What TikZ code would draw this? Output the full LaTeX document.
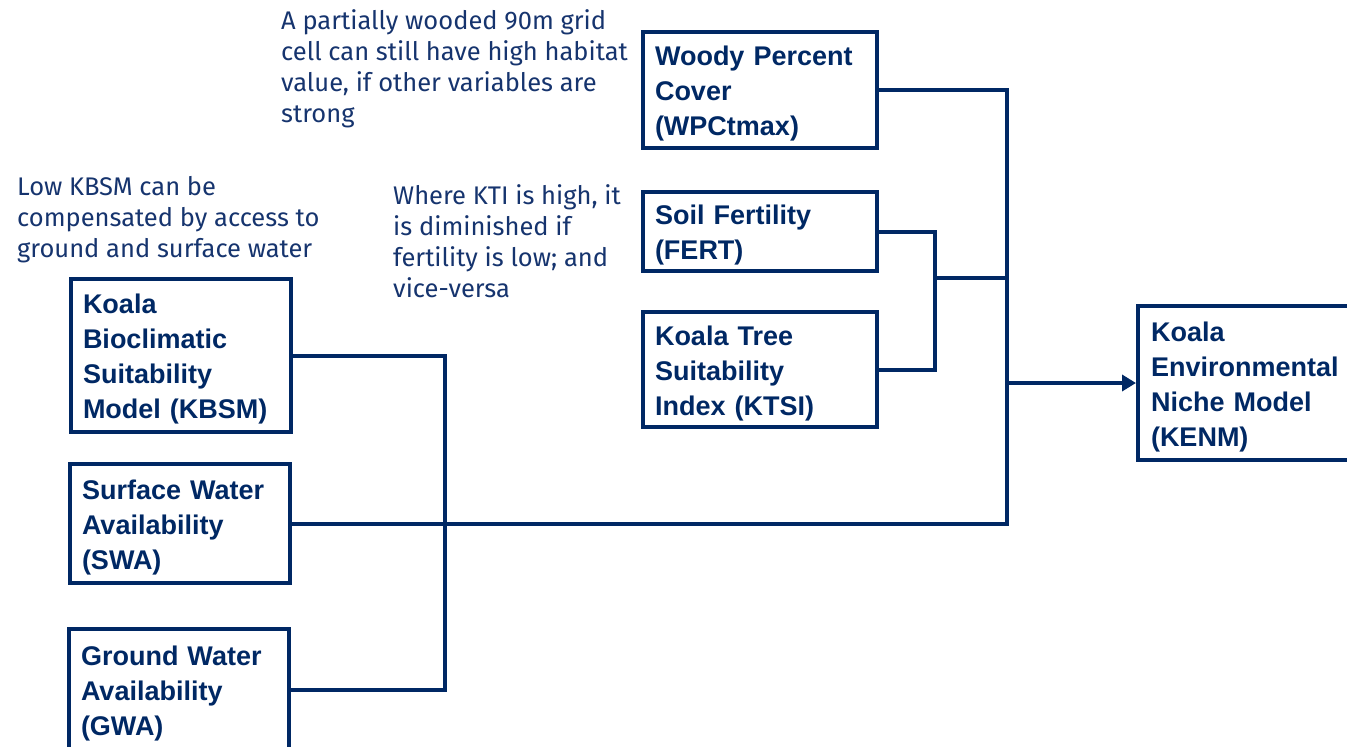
\documentclass[tikz,border=0pt]{standalone}
\usepackage{fontspec}
\setmainfont{Liberation Sans}
\newfontfamily\notefont{Fira Sans}
\usetikzlibrary{arrows.meta}
\definecolor{navy}{RGB}{0,40,100}
\definecolor{notecol}{RGB}{22,52,110}
% extra room above the first line of a box label
\newcommand\topgap{\rule{0pt}{27pt}}
\begin{document}
\begin{tikzpicture}[x=1pt,y=-1pt,
  box/.style={draw=navy, line width=4pt, text=navy,
    font=\bfseries\fontsize{27pt}{35pt}\selectfont,
    align=left, inner xsep=12pt, inner ysep=2pt, text width=210pt},
  note/.style={text=notecol, font=\notefont\fontsize{25.5pt}{31pt}\selectfont,
    align=left, anchor=north west, inner sep=0pt},
  link/.style={draw=navy, line width=4pt},
]
\useasboundingbox (0,0) rectangle (1347,747);

% input layers on the right-hand column
\node[box, minimum height=116pt] (wpc) at (760,90) {\topgap Woody Percent\\Cover\\(WPCtmax)};
\node[box, minimum height=79pt] (fert) at (760,231.5) {\topgap Soil Fertility\\(FERT)};
\node[box, minimum height=115pt] (ktsi) at (760,369.5) {\topgap Koala Tree\\Suitability\\Index (KTSI)};

% input layers on the left-hand column
\node[box, text width=196pt, minimum height=153pt] (kbsm) at (181,355.5) {\topgap Koala\\Bioclimatic\\Suitability\\Model (KBSM)};
\node[box, text width=196pt, minimum height=119pt] (swa) at (180,523.5) {\topgap Surface Water\\Availability\\(SWA)};
\node[box, text width=196pt, minimum height=121pt] (gwa) at (179,689.5) {\topgap Ground Water\\Availability\\(GWA)};

% output model
\node[box, text width=200pt, inner xsep=13pt, minimum height=154pt] (kenm) at (1251,383) {\topgap Koala\\Environmental\\Niche Model\\(KENM)};

% explanatory notes
\node[note] (n1) at (281,7.3) {\strut A partially wooded 90m grid\\cell can still have high habitat\\value, if other variables are\\strong};
\node[note] (n2) at (17,173.3) {\strut Low KBSM can be\\compensated by access to\\ground and surface water};
\node[note] (n3) at (393,182.3) {\strut Where KTI is high, it\\is diminished if\\fertility is low; and\\vice-versa};

% junction columns
\coordinate (jL) at (445,0);
\coordinate (jF) at (935,0);
\coordinate (jR) at (1007,0);
\coordinate (jM) at (935,278);

% connectors
\draw[link] (kbsm.east) -| (jL |- gwa.east) -- (gwa.east);
\draw[link] (swa.east) -- (jR |- swa.east) -- (jR |- wpc.east) -- (wpc.east);
\draw[link] (fert.east) -| (jF |- ktsi.east) -- (ktsi.east);
\draw[link] (jM) -- (jR |- jM);
\draw[link, -{Triangle[length=14pt,width=16pt]}] (jR |- kenm.west) -- (kenm.west);
\end{tikzpicture}
\end{document}
